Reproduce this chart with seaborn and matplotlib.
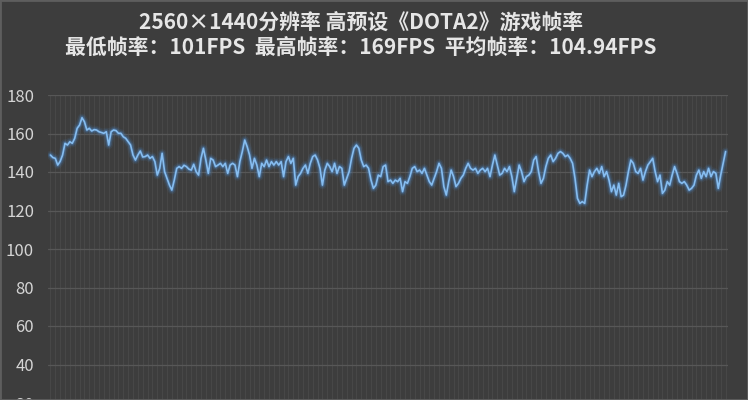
import matplotlib
matplotlib.use("Agg")
import matplotlib.pyplot as plt
import matplotlib.patches as mpatches
import seaborn as sns
import numpy as np
import pandas as pd

title_line1 = "2560×1440分辨率 高预设《DOTA2》游戏帧率"
title_line2 = "最低帧率：101FPS  最高帧率：169FPS  平均帧率：104.94FPS"
y_ticks = [20, 40, 60, 80, 100, 120, 140, 160, 180]

fps_part1 = [148.8, 147.5, 147.1, 143.6, 145.5, 148.8, 154.9, 154.0, 155.7, 154.9,
             157.5, 162.7, 164.4, 168.2, 166.1, 161.8, 162.7, 161.3, 162.0, 161.8,
             160.9, 160.5, 160.1, 160.9, 154.0, 160.9, 161.8, 161.5, 160.1, 160.1,
             158.3, 157.5, 155.7, 154.0, 148.8, 146.2, 148.8, 150.9, 147.8, 148.0,
             148.8, 147.1, 148.0, 145.4, 138.4, 141.9, 149.7, 140.2, 136.7, 133.2,
             130.6, 135.8, 141.9, 142.8, 141.9, 143.5, 142.8, 141.5, 141.0, 144.0,
             140.2, 138.4, 147.1, 152.3, 146.2, 139.3, 147.1, 146.2, 142.8]
fps_part2 = [143.6, 144.5, 142.8, 144.5, 139.3, 143.6, 144.5, 143.6, 137.6, 145.4,
             150.6, 156.6, 153.2, 148.8, 141.9, 147.1, 143.6, 137.6, 144.5, 142.8,
             146.2, 142.8, 145.4, 143.6, 145.4, 143.6, 145.4, 137.6, 145.4, 148.0,
             144.5, 147.1, 133.2, 137.6, 139.3, 141.9, 143.6, 139.3, 144.5, 148.0,
             148.8, 146.2, 141.9, 133.2, 141.0, 144.5, 142.8, 140.2, 144.5, 139.3,
             142.8, 141.9, 133.2, 136.7, 140.2, 147.1, 152.3, 154.0, 152.3, 146.2,
             142.8, 143.6, 141.9, 135.8, 131.5, 133.2, 138.4, 137.6, 142.8, 143.6]
fps_part3 = [135.0, 135.8, 134.1, 135.8, 135.0, 136.7, 129.8, 135.0, 134.1, 137.6,
             141.9, 142.8, 140.2, 141.0, 139.3, 141.9, 138.4, 135.0, 133.2, 136.7,
             140.2, 144.5, 141.9, 132.4, 128.0, 135.0, 141.0, 137.6, 132.4, 134.1,
             136.7, 138.4, 141.9, 144.5, 141.9, 141.0, 141.9, 139.3, 141.0, 141.9,
             140.2, 141.9, 137.6, 143.6, 148.8, 143.6, 138.4, 139.3, 141.9, 140.2,
             142.8, 137.6, 129.8, 136.7, 143.6, 140.2, 135.0, 137.6, 138.4, 140.2,
             146.2, 148.0, 140.2, 134.1, 136.7, 142.8, 147.1, 148.8, 145.4, 147.1,
             149.7, 150.6]
fps_part4 = [149.7, 148.0, 148.8, 147.1, 144.5, 136.7, 126.3, 123.7, 124.6, 123.7,
             133.2, 141.0, 137.6, 140.2, 141.9, 139.3, 142.8, 137.6, 140.2, 135.8,
             129.8, 133.2, 128.0, 134.1, 127.2, 128.0, 133.2, 140.2, 146.2, 144.5,
             140.2, 139.3, 141.9, 135.8, 140.2, 143.6, 145.4, 147.1, 140.2, 135.0,
             138.4, 128.9, 130.6, 135.0, 133.2, 138.4, 142.8, 139.3, 135.0, 134.1,
             135.0, 133.2, 130.6, 131.5, 133.2, 138.4, 141.0, 136.7, 140.2, 137.6,
             141.9, 137.6, 140.2, 139.3, 131.5, 138.4, 144.5, 150.6]

fps = fps_part1 + fps_part2 + fps_part3 + fps_part4
df = pd.DataFrame({"sample": np.arange(len(fps)), "fps": fps})

BG = "#3d3d3d"
sns.set_theme(style="dark")
plt.rcParams["font.family"] = ["Noto Sans CJK SC", "DejaVu Sans"]

fig = plt.figure(figsize=(7.48, 4.0), dpi=100, facecolor=BG)
ax = fig.add_axes([48 / 748, 1 - 441.5 / 400, 680 / 748, 346.5 / 400])
ax.set_facecolor(BG)

# faint vertical gridlines
for xv in np.arange(0, len(fps), 2):
    ax.axvline(xv, color="#4c4c4c", lw=0.6, alpha=0.8, zorder=0)
for yv in y_ticks:
    ax.axhline(yv, color="#575757", lw=0.9, zorder=0.5)

# glow layers
for lw, a in [(6, 0.10), (4, 0.18), (2.6, 0.30)]:
    ax.plot(df["sample"], df["fps"], color="#4f8fd6", lw=lw, alpha=a,
            solid_joinstyle="round", zorder=2)
sns.lineplot(data=df, x="sample", y="fps", ax=ax, color="#86bdf0",
             linewidth=1.2, zorder=3)

ax.set_xlim(-1, len(fps))
ax.set_ylim(0, 180)
ax.set_yticks(y_ticks)
ax.set_yticklabels([str(v) for v in y_ticks])
ax.set_xticks([])
ax.set_xlabel("")
ax.set_ylabel("")
ax.grid(False)
ax.tick_params(axis="y", colors="#d4d4d4", labelsize=12, length=0, pad=10)
for s in ax.spines.values():
    s.set_visible(False)

fig.text(361 / 748, 1 - 22 / 400, title_line1, ha="center", va="center",
         fontsize=15, fontweight="bold", color="#e6e6e6")
fig.text(361 / 748, 1 - 47 / 400, title_line2, ha="center", va="center",
         fontsize=15, fontweight="bold", color="#e6e6e6")

fig.patches.append(mpatches.Rectangle((0, 0), 1, 1, transform=fig.transFigure,
                                      fill=False, edgecolor="#5e5e5e", lw=2))

fig.savefig("out.png", dpi=100, facecolor=BG)
